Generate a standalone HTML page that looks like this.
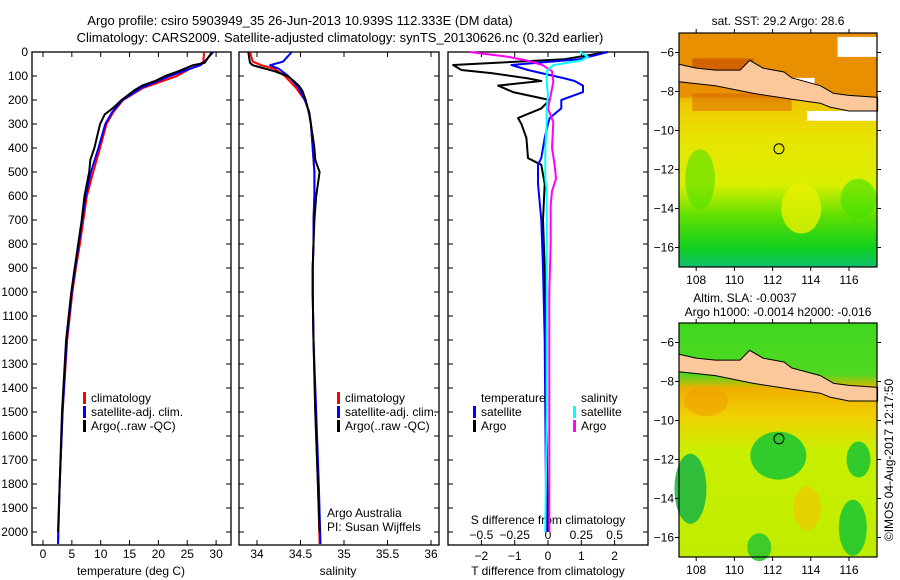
<!DOCTYPE html>
<html><head><meta charset="utf-8">
<style>
html,body{margin:0;padding:0;background:#fff;}
svg{display:block;font-family:"Liberation Sans",sans-serif;}
text{font-size:12px;fill:#000;}
</style></head>
<body>
<svg id="fig" width="900" height="580" viewBox="0 0 900 580" xmlns="http://www.w3.org/2000/svg">
<defs>
<linearGradient id="sstGrad" x1="0" y1="0" x2="0" y2="1">
<stop offset="0" stop-color="#e89000"/><stop offset="0.25" stop-color="#e89a00"/>
<stop offset="0.3" stop-color="#f0c800"/><stop offset="0.45" stop-color="#e8e400"/>
<stop offset="0.65" stop-color="#d8f000"/><stop offset="0.78" stop-color="#60e000"/>
<stop offset="0.92" stop-color="#10d020"/><stop offset="1" stop-color="#10c070"/>
</linearGradient>
<linearGradient id="slaGrad" x1="0" y1="0" x2="0" y2="1">
<stop offset="0" stop-color="#40d820"/><stop offset="0.22" stop-color="#50d820"/>
<stop offset="0.28" stop-color="#f0b000"/><stop offset="0.4" stop-color="#f0d000"/>
<stop offset="0.55" stop-color="#c8f000"/><stop offset="1" stop-color="#c0ec00"/>
</linearGradient>
</defs>
<text x="300" y="25" text-anchor="middle" style="font-size:13px">Argo profile: csiro 5903949_35 26-Jun-2013 10.939S 112.333E (DM data)</text>
<text x="340" y="42" text-anchor="middle" style="font-size:13px">Climatology: CARS2009. Satellite-adjusted climatology: synTS_20130626.nc (0.32d earlier)</text>
<g id="panels"></g>
</svg>
<script>
// ---- data ----
const depthTicks = [0,100,200,300,400,500,600,700,800,900,1000,1100,1200,1300,1400,1500,1600,1700,1800,1900,2000];
const tempTicks = [0,5,10,15,20,25,30];
const salTicks = [34,34.5,35,35.5,36];
const tdiffTicks = [-2,-1,0,1,2];
const sdiffTicks = [-0.5,-0.25,0,0.25,0.5];
const latTicks = [-6,-8,-10,-12,-14,-16];
const lonTicks = [108,110,112,114,116];

const climDepth = [0,40,55,70,100,150,200,250,300,400,500,600,700,800,900,1000,1200,1500,1800,2050];
const climTemp  = [27.9,27.8,27.0,25.5,23.2,17.3,13.9,12.2,11.0,9.9,8.7,7.6,7.0,6.4,5.7,5.1,4.2,3.4,2.9,2.6];
const satDepth  = [0,40,55,70,100,150,200,250,300,400,500,600,700,800,900,1000,1200,1500,1800,2050];
const satTemp   = [29.5,28.0,27.3,25.5,22.0,17.0,13.8,12.0,10.8,9.6,8.3,7.4,6.8,6.2,5.6,5.0,4.1,3.4,2.9,2.6];
const argoDepth = [0,45,55,65,80,100,120,140,160,200,230,260,300,350,400,450,500,600,700,800,900,1000,1200,1500,1800,2000];
const argoTemp  = [29.3,28.0,26.0,25.0,23.5,21.2,19.5,17.2,15.8,13.6,12.3,10.7,9.9,9.4,8.9,8.2,8.0,7.2,6.7,6.1,5.5,4.9,4.0,3.3,2.9,2.6];

const climSal = [33.92,33.95,34.05,34.2,34.32,34.45,34.55,34.6,34.62,34.64,34.66,34.66,34.65,34.65,34.64,34.64,34.65,34.67,34.7,34.72];
const satSal  = [34.4,34.3,34.15,34.25,34.36,34.48,34.55,34.6,34.62,34.64,34.66,34.66,34.65,34.65,34.64,34.64,34.65,34.68,34.71,34.73];
const argoSal = [33.9,33.92,33.95,34.05,34.2,34.35,34.42,34.48,34.52,34.56,34.58,34.6,34.62,34.64,34.66,34.67,34.72,34.68,34.66,34.65,34.64,34.64,34.65,34.67,34.7,34.72];

const dTDepth = [0,30,54,75,88,110,121,140,167,200,235,275,300,358,442,470,550,700,900,1200,1500,2000];
const argoDT  = [1.8,0.5,-2.85,-2.6,-1.7,-0.6,-0.2,-1.5,-1.05,0.05,-0.2,-0.9,-0.8,-0.65,-0.6,-0.2,-0.1,-0.15,-0.1,-0.05,-0.05,0.0];
const satDT   = [1.8,0.95,-1.1,-0.6,-0.2,0.5,0.8,1.05,1.05,0.4,0.4,0.05,0.0,-0.1,-0.2,-0.3,-0.3,-0.2,-0.15,-0.1,-0.08,-0.05];
const dSDepth = [0,20,35,55,80,125,180,236,292,400,472,528,580,639,800,1000,1500,2000];
const argoDS  = [-0.59,-0.3,-0.16,-0.04,0.03,0.04,0.02,0.0,0.04,0.03,0.05,0.06,0.03,0.02,0.02,0.01,0.01,0.01];
const satDS   = [0.24,0.3,0.25,0.04,-0.01,-0.01,0.0,-0.01,-0.01,-0.02,-0.02,-0.02,-0.01,-0.01,-0.01,-0.01,-0.01,-0.02];

// ---- helpers ----
const NS="http://www.w3.org/2000/svg";
const root=document.getElementById('panels');
function el(tag,attrs,parent,txt){const e=document.createElementNS(NS,tag);for(const k in attrs)e.setAttribute(k,attrs[k]);if(txt!==undefined)e.textContent=txt;(parent||root).appendChild(e);return e;}
const TOP=52, BOT=545;
const yD = d => TOP + d*0.24;

function frame(x0,x1,name){
  const r=el('rect',{x:x0,y:TOP,width:x1-x0,height:BOT-TOP,fill:'none',stroke:'#000','stroke-width':1.3});
  
  
  depthTicks.forEach(d=>{
    el('line',{x1:x0,x2:x0+5,y1:yD(d),y2:yD(d),stroke:'#000'});
    el('line',{x1:x1,x2:x1-5,y1:yD(d),y2:yD(d),stroke:'#000'});
  });
}
function line(xs,ds,xf,color,name,w){
  const pts=xs.map((v,i)=>xf(v).toFixed(1)+','+yD(ds[i]).toFixed(1)).join(' ');
  const p=el('polyline',{points:pts,fill:'none',stroke:color,'stroke-width':w||2,'stroke-linejoin':'round'});
  
  
}
function legendItem(x,y,color,label,name){
  const g=el('g',{});
  
  
  el('rect',{x:x,y:y-10,width:3,height:12,fill:color},g);
  el('text',{x:x+8,y:y},g,label);
}

// ---- panel 1: temperature ----
const xT = t => 43 + t*5.77;
frame(32,231,'temperature-plot-frame');
depthTicks.forEach(d=>{const t=el('text',{x:28,y:yD(d)+4,'text-anchor':'end'},root,String(d));});
tempTicks.forEach(v=>{el('line',{x1:xT(v),x2:xT(v),y1:BOT,y2:BOT-5,stroke:'#000'});el('line',{x1:xT(v),x2:xT(v),y1:TOP,y2:TOP+5,stroke:'#000'});el('text',{x:xT(v),y:558,'text-anchor':'middle'},root,String(v));});
el('text',{x:131,y:575,'text-anchor':'middle'},root,'temperature (deg C)');
line(climTemp,climDepth,xT,'#f00','climatology-temp-line');
line(satTemp,satDepth,xT,'#00f','satellite-temp-line');
line(argoTemp,argoDepth,xT,'#000','argo-temp-line');
legendItem(83,402,'#f00','climatology','legend-climatology');
legendItem(83,416,'#00f','satellite-adj. clim.','legend-satellite');
legendItem(83,430,'#000','Argo(..raw -QC)','legend-argo');

// ---- panel 2: salinity ----
const xS = s => 257 + (s-34)*87;
frame(239,439,'salinity-plot-frame');
salTicks.forEach(v=>{el('line',{x1:xS(v),x2:xS(v),y1:BOT,y2:BOT-5,stroke:'#000'});el('line',{x1:xS(v),x2:xS(v),y1:TOP,y2:TOP+5,stroke:'#000'});el('text',{x:xS(v),y:558,'text-anchor':'middle'},root,String(v));});
el('text',{x:338,y:575,'text-anchor':'middle'},root,'salinity');
line(climSal,climDepth,xS,'#f00','climatology-salinity-line');
line(satSal,satDepth,xS,'#00f','satellite-salinity-line');
line(argoSal,argoDepth,xS,'#000','argo-salinity-line');
legendItem(337,402,'#f00','climatology','legend-climatology-sal');
legendItem(337,416,'#00f','satellite-adj. clim.','legend-satellite-sal');
legendItem(337,430,'#000','Argo(..raw -QC)','legend-argo-sal');
el('text',{x:327,y:517},root,'Argo Australia');
el('text',{x:327,y:531},root,'PI: Susan Wijffels');

// ---- panel 3: differences ----
const xDT = v => 548 + v*33.3;
const xDS = v => 548 + v*133.2;
frame(448,648,'difference-plot-frame');
tdiffTicks.forEach(v=>{el('line',{x1:xDT(v),x2:xDT(v),y1:BOT,y2:BOT-5,stroke:'#000'});el('line',{x1:xDT(v),x2:xDT(v),y1:TOP,y2:TOP+5,stroke:'#000'});el('text',{x:xDT(v),y:560,'text-anchor':'middle'},root,String(v).replace('-','−'));});
sdiffTicks.forEach(v=>{el('text',{x:xDS(v),y:539,'text-anchor':'middle'},root,String(v).replace('-','−').replace('0.','0.').replace(/^−0\./,'−0.').replace(/^0\.5$/,'0.5'));});
el('text',{x:548,y:524,'text-anchor':'middle'},root,'S difference from climatology');
el('text',{x:548,y:575,'text-anchor':'middle'},root,'T difference from climatology');
line(argoDT,dTDepth,xDT,'#000','argo-temp-diff-line');
line(satDT,dTDepth,xDT,'#00f','satellite-temp-diff-line');
line(argoDS,dSDepth,xDS,'#f0f','argo-salinity-diff-line');
line(satDS,dSDepth,xDS,'#0ff','satellite-salinity-diff-line');
el('text',{x:481,y:402},root,'temperature');
el('text',{x:581,y:402},root,'salinity');
legendItem(473,416,'#00f','satellite','legend-temp-satellite');
legendItem(473,430,'#000','Argo','legend-temp-argo');
legendItem(573,416,'#0ff','satellite','legend-sal-satellite');
legendItem(573,430,'#f0f','Argo','legend-sal-argo');

// ---- maps ----
function map(y0,fillId,name,isSLA){
  const X0=679,X1=877,H=234;
  const lon = v => X0 + (v-107.1)*19.1;
  const lat = v => y0 + (-5 - v)*19.5;
  const g=el('g',{});
  
  
  el('rect',{x:X0,y:y0,width:X1-X0,height:H,fill:'url(#'+fillId+')'},g);
  if(!isSLA){
    el('rect',{x:X0,y:y0,width:X1-X0,height:lat(-8.3)-y0,fill:'#e89000'},g);
    el('rect',{x:lon(107.8),y:lat(-6.3),width:lon(111)-lon(107.8),height:20,fill:'#c85000',opacity:0.7},g);
    el('rect',{x:lon(107.8),y:lat(-8.1),width:lon(113)-lon(107.8),height:lat(-9)-lat(-8.1),fill:'#d86000',opacity:0.5},g);
    el('rect',{x:lon(115.4),y:lat(-5.2),width:lon(117.5)-lon(115.4),height:20,fill:'#fff'},g);
    el('rect',{x:lon(113.8),y:lat(-9.0),width:lon(117.5)-lon(113.8),height:lat(-9.5)-lat(-9.0),fill:'#fff'},g);
    el('rect',{x:lon(112.5),y:lat(-7.3),width:lon(114.2)-lon(112.5),height:lat(-7.8)-lat(-7.3),fill:'#fff'},g);
    el('ellipse',{cx:lon(108.2),cy:lat(-12.5),rx:15,ry:30,fill:'#50e000',opacity:0.6},g);
    el('ellipse',{cx:lon(116.5),cy:lat(-13.5),rx:18,ry:20,fill:'#40e000',opacity:0.6},g);
    el('ellipse',{cx:lon(113.5),cy:lat(-14),rx:20,ry:25,fill:'#e8f000',opacity:0.8},g);
  } else {
    el('ellipse',{cx:lon(112.3),cy:lat(-11.8),rx:28,ry:24,fill:'#20c830',opacity:0.9},g);
    el('ellipse',{cx:lon(107.7),cy:lat(-13.5),rx:16,ry:35,fill:'#20b840',opacity:0.9},g);
    el('ellipse',{cx:lon(116.5),cy:lat(-12),rx:12,ry:18,fill:'#20c830',opacity:0.9},g);
    el('ellipse',{cx:lon(116.2),cy:lat(-15.5),rx:14,ry:28,fill:'#20c830',opacity:0.9},g);
    el('ellipse',{cx:lon(111.3),cy:lat(-16.5),rx:12,ry:14,fill:'#30c830',opacity:0.9},g);
    el('ellipse',{cx:lon(113.8),cy:lat(-14.5),rx:14,ry:22,fill:'#f0c800',opacity:0.7},g);
    el('ellipse',{cx:lon(108.5),cy:lat(-9),rx:22,ry:15,fill:'#f0a000',opacity:0.6},g);
  }
  // Java land
  const land=[[107.1,-6.6],[108,-6.8],[109,-6.9],[110.3,-6.9],[110.8,-6.4],[111.5,-6.8],[112.6,-7.0],[113,-7.3],[114.5,-7.7],[115.2,-8.1],[116,-8.2],[117.5,-8.3],[117.5,-9.0],[116,-9.0],[115,-8.8],[114.5,-8.6],[113,-8.4],[111,-8.1],[109,-7.7],[107.1,-7.5]];
  const pl=el('polygon',{points:land.map(p=>lon(p[0]).toFixed(1)+','+lat(p[1]).toFixed(1)).join(' '),fill:'#fac89a',stroke:'#000','stroke-width':1},g);
  
  
  el('circle',{cx:lon(112.333),cy:lat(-10.939),r:5,fill:'none',stroke:'#000'},g);
  el('rect',{x:X0,y:y0,width:X1-X0,height:H,fill:'none',stroke:'#000','stroke-width':1.2},g);
  latTicks.forEach(v=>{el('line',{x1:X0,x2:X0-4,y1:lat(v),y2:lat(v),stroke:'#000'},g);el('line',{x1:X1,x2:X1+4,y1:lat(v),y2:lat(v),stroke:'#000'},g);el('text',{x:X0-5,y:lat(v)+4,'text-anchor':'end'},g,String(v).replace('-','−'));});
  lonTicks.forEach(v=>{el('line',{x1:lon(v),x2:lon(v),y1:y0+H,y2:y0+H+4,stroke:'#000'},g);el('line',{x1:lon(v),x2:lon(v),y1:y0,y2:y0-4,stroke:'#000'},g);el('text',{x:lon(v),y:y0+H+17,'text-anchor':'middle'},g,String(v));});
}
map(33,'sstGrad','sst-map',false);
map(323,'slaGrad','sla-map',true);
el('text',{x:778,y:25,'text-anchor':'middle'},root,'sat. SST: 29.2  Argo: 28.6');
el('text',{x:745,y:302,'text-anchor':'middle'},root,'Altim. SLA: -0.0037');
el('text',{x:778,y:316,'text-anchor':'middle'},root,'Argo h1000: -0.0014 h2000: -0.016');
el('text',{x:893,y:460,'text-anchor':'middle',transform:'rotate(-90 893 460)'},root,'©IMOS 04-Aug-2017 12:17:50');
</script>
</body></html>
